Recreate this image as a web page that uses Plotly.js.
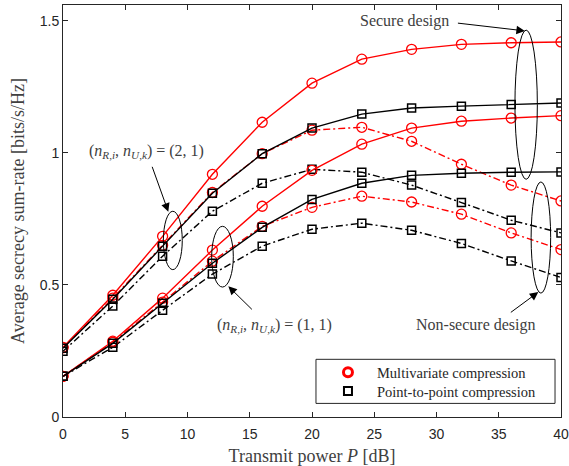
<!DOCTYPE html>
<html>
<head>
<meta charset="utf-8">
<script src="https://cdn.plot.ly/plotly-3.0.1.min.js"></script>
<style>html,body{margin:0;padding:0;background:#fff;}#chart{width:569px;height:466px;}</style>
</head>
<body>
<div id="chart"></div>
<script>
// Transmit power P [dB]
const powerDb = [0, 4, 8, 12, 16, 20, 24, 28, 32, 36, 40];

// (n_R,i, n_U,k) = (2,1)
const mcSecure21  = [0.264, 0.461, 0.684, 0.919, 1.116, 1.264, 1.355, 1.392, 1.411, 1.417, 1.420];
const p2pSecure21 = [0.260, 0.446, 0.647, 0.847, 0.997, 1.094, 1.147, 1.170, 1.177, 1.183, 1.189];
const mcNonSec21  = [0.262, 0.450, 0.650, 0.850, 0.997, 1.086, 1.097, 1.044, 0.957, 0.878, 0.818];
const p2pNonSec21 = [0.249, 0.420, 0.609, 0.779, 0.885, 0.938, 0.927, 0.878, 0.812, 0.745, 0.697];

// (n_R,i, n_U,k) = (1,1)
const mcSecure11  = [0.154, 0.287, 0.450, 0.632, 0.798, 0.934, 1.033, 1.094, 1.120, 1.132, 1.141];
const p2pSecure11 = [0.154, 0.279, 0.431, 0.582, 0.718, 0.824, 0.885, 0.915, 0.923, 0.927, 0.928];
const mcNonSec11  = [0.154, 0.283, 0.435, 0.590, 0.722, 0.794, 0.836, 0.814, 0.768, 0.697, 0.634];
const p2pNonSec11 = [0.154, 0.264, 0.404, 0.541, 0.647, 0.711, 0.734, 0.707, 0.657, 0.591, 0.528];

const legendNames = ['Multivariate compression', 'Point-to-point compression'];
const xTickVals = [0, 5, 10, 15, 20, 25, 30, 35, 40];
const yTickVals = [0, 0.5, 1, 1.5];
const yTickText = ['0', '0.5', '1', '1.5'];
const xTitle = 'Transmit power <i>P</i> [dB]';
const yTitle = 'Average secrecy sum-rate [bits/s/Hz]';
const label21 = '(<i>n</i><sub><i>R</i>,<i>i</i></sub>, <i>n</i><sub><i>U</i>,<i>k</i></sub>) = (2, 1)';
const label11 = '(<i>n</i><sub><i>R</i>,<i>i</i></sub>, <i>n</i><sub><i>U</i>,<i>k</i></sub>) = (1, 1)';
const labelSecure = 'Secure design';
const labelNonSecure = 'Non-secure design';

const RED = '#ff0000', BLACK = '#000000';
const DASHDOT = '7px,3px,2px,3px';

function mc(y, dash) {
  return {x: powerDb, y: y, type: 'scatter', mode: 'lines+markers', showlegend: false,
    line: {color: RED, width: 1.4, dash: dash},
    marker: {symbol: 'circle-open', size: 10, color: RED, line: {color: RED, width: 1.3}}};
}
function p2p(y, dash) {
  return {x: powerDb, y: y, type: 'scatter', mode: 'lines+markers', showlegend: false,
    line: {color: BLACK, width: 1.4, dash: dash},
    marker: {symbol: 'square-open', size: 8, color: BLACK, line: {color: BLACK, width: 1.5}}};
}

const traces = [
  mc(mcNonSec21, DASHDOT), mc(mcNonSec11, DASHDOT),
  p2p(p2pNonSec21, DASHDOT), p2p(p2pNonSec11, DASHDOT),
  mc(mcSecure21, 'solid'), mc(mcSecure11, 'solid'),
  p2p(p2pSecure21, 'solid'), p2p(p2pSecure11, 'solid'),
  {x: [null], y: [null], type: 'scatter', mode: 'markers', name: legendNames[0], legend: 'legend',
    marker: {symbol: 'circle-open', size: 9, color: RED, line: {color: RED, width: 3}}},
  {x: [null], y: [null], type: 'scatter', mode: 'markers', name: legendNames[1], legend: 'legend2',
    marker: {symbol: 'square-open', size: 8, color: BLACK, line: {color: BLACK, width: 2}}}
];

const serif = 'Liberation Serif, DejaVu Serif, serif';
const sans = 'Liberation Sans, Arial, sans-serif';
const txtCol = '#404040';
const axCol = '#262626';

function ell(x0, x1, y0, y1) {
  return {type: 'circle', xref: 'x', yref: 'y', x0: x0, x1: x1, y0: y0, y1: y1,
    line: {color: BLACK, width: 1}};
}
function arrow(tx, ty, hx, hy) {
  return {x: hx, y: hy, ax: tx, ay: ty, xref: 'x', yref: 'y', axref: 'x', ayref: 'y',
    text: '', showarrow: true, arrowhead: 2, arrowsize: 1.7, arrowwidth: 1, arrowcolor: BLACK};
}
function label(x, y, t) {
  return {x: x, y: y, xref: 'x', yref: 'y', text: t, showarrow: false,
    font: {family: serif, size: 16, color: txtCol}};
}
function legendAt(y) {
  return {x: 0.514, y: y, xanchor: 'left', yanchor: 'middle',
    bgcolor: 'rgba(0,0,0,0)', borderwidth: 0,
    font: {family: serif, size: 14.5, color: axCol}, itemwidth: 48};
}

const layout = {
  width: 569, height: 466,
  margin: {l: 63, r: 8, t: 5, b: 49},
  paper_bgcolor: '#fff', plot_bgcolor: '#fff',
  showlegend: true,
  legend: legendAt(0.1085),
  legend2: legendAt(0.0631),
  xaxis: {range: [0, 40], tickvals: xTickVals,
    ticks: 'inside', ticklen: 5, tickcolor: axCol, showgrid: false, zeroline: false,
    showline: true, linecolor: axCol, linewidth: 1, mirror: 'ticks', ticklabelstandoff: 4,
    tickfont: {family: sans, size: 14, color: axCol},
    title: {text: xTitle, standoff: 8, font: {family: serif, size: 18, color: txtCol}}},
  yaxis: {range: [0, 1.56], tickvals: yTickVals, ticktext: yTickText,
    ticks: 'inside', ticklen: 5, tickcolor: axCol, showgrid: false, zeroline: false,
    showline: true, linecolor: axCol, linewidth: 1, mirror: 'ticks',
    tickfont: {family: sans, size: 14, color: axCol},
    title: {text: yTitle, standoff: 10, font: {family: serif, size: 18, color: txtCol}}},
  shapes: [
    {type: 'rect', xref: 'paper', yref: 'paper', x0: 0.508, x1: 0.988, y0: 0.033, y1: 0.140,
      fillcolor: '#ffffff', line: {color: axCol, width: 1}, layer: 'above'},
    ell(36.3, 38.1, 0.900, 1.465),
    ell(37.6, 39.17, 0.469, 0.890),
    ell(8.06, 9.58, 0.558, 0.779),
    ell(11.94, 13.68, 0.492, 0.722)
  ],
  annotations: [
    arrow(31.6, 1.492, 37.1, 1.462),
    arrow(35.85, 0.392, 38.18, 0.473),
    arrow(7.12, 0.953, 8.46, 0.777),
    arrow(15.29, 0.402, 13.28, 0.495),
    label(27.4, 1.50, labelSecure),
    label(33.2, 0.347, labelNonSecure),
    label(6.7, 1.005, label21),
    label(17.0, 0.345, label11)
  ]
};

Plotly.newPlot('chart', traces, layout, {displayModeBar: false, staticPlot: true});
</script>
</body>
</html>
